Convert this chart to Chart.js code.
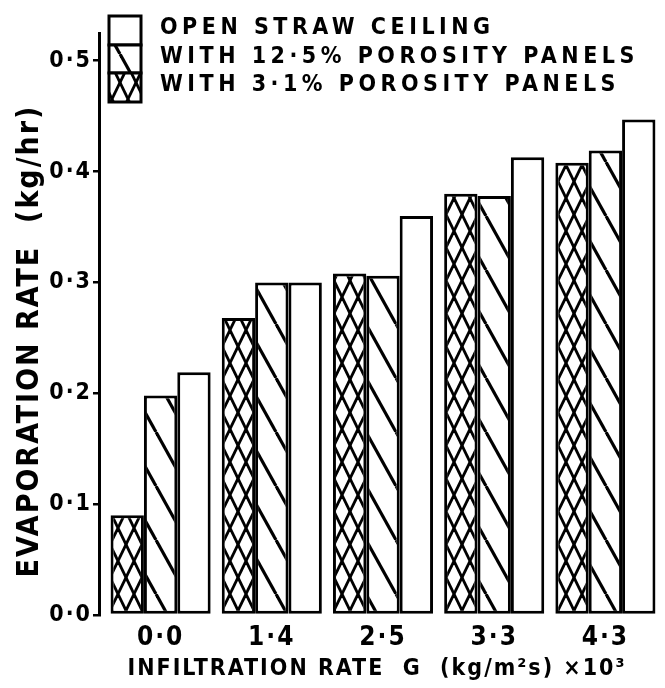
<!DOCTYPE html>
<html>
<head>
<meta charset="utf-8">
<script src="https://cdn.jsdelivr.net/npm/chart.js@4/dist/chart.umd.min.js"></script>
<style>
  html, body { margin: 0; padding: 0; background: #fff; }
  #wrap { width: 665px; height: 688px; }
</style>
</head>
<body>
<div id="wrap"><canvas id="barChart"></canvas></div>
<script>
// Datos
const categorias = ['0·0', '1·4', '2·5', '3·3', '4·3'];
const etiquetas = ['WITH 3·1% POROSITY PANELS', 'WITH 12·5% POROSITY PANELS', 'OPEN STRAW CEILING'];
const porosidad31 = [0.090, 0.268, 0.308, 0.380, 0.408];
const porosidad125 = [0.198, 0.300, 0.306, 0.378, 0.419];
const abierto = [0.219, 0.300, 0.360, 0.413, 0.447];
const ticksY = [0, 0.1, 0.2, 0.3, 0.4, 0.5];

const fuente = "'DejaVu Sans Condensed', 'DejaVu Sans', sans-serif";

// Patrones de rayado
function patronDiagonal() {
    const c = document.createElement('canvas');
    c.width = 30; c.height = 54;
    const x = c.getContext('2d');
    x.fillStyle = '#fff';
    x.fillRect(0, 0, 30, 54);
    x.strokeStyle = '#000';
    x.lineWidth = 3.2;
    [-30, 0, 30].forEach(dx => {
        x.beginPath();
        x.moveTo(dx, 0);
        x.lineTo(dx + 30, 54);
        x.stroke();
    });
    return x.createPattern(c, 'repeat');
}

function patronCruzado() {
    const c = document.createElement('canvas');
    c.width = 16; c.height = 33;
    const x = c.getContext('2d');
    x.fillStyle = '#fff';
    x.fillRect(0, 0, 16, 33);
    x.strokeStyle = '#000';
    x.lineWidth = 2.8;
    [-16, 0, 16].forEach(dx => {
        x.beginPath();
        x.moveTo(dx, 0);
        x.lineTo(dx + 16, 33);
        x.stroke();
        x.beginPath();
        x.moveTo(dx + 16, 0);
        x.lineTo(dx, 33);
        x.stroke();
    });
    return x.createPattern(c, 'repeat');
}

const fondos = [patronCruzado(), patronDiagonal(), '#fff'];

// Espaciado de letras para todo el texto
const espaciado = {
    id: 'espaciado',
    beforeLayout(chart) { chart.ctx.letterSpacing = '2px'; },
    beforeDraw(chart) { chart.ctx.letterSpacing = '2px'; }
};

// Las barras empiezan un poco separadas del eje Y
const desplazar = {
    id: 'desplazar',
    beforeDatasetsDraw(chart) { chart.ctx.save(); chart.ctx.translate(6, 0); },
    afterDatasetsDraw(chart) { chart.ctx.restore(); }
};

// Leyenda dibujada dentro del area del grafico
const leyenda = {
    id: 'leyenda',
    afterDraw(chart) {
        const ctx = chart.ctx;
        const x0 = 109, w = 32;
        const filas = [
            { y: 16, h: 29, ds: 2 },
            { y: 45, h: 28, ds: 1 },
            { y: 73, h: 29, ds: 0 }
        ];
        ctx.save();
        ctx.letterSpacing = '4.5px';
        filas.forEach(f => {
            ctx.fillStyle = fondos[f.ds];
            ctx.fillRect(x0, f.y, w, f.h);
            ctx.lineWidth = 3;
            ctx.strokeStyle = '#000';
            ctx.strokeRect(x0, f.y, w, f.h);
            ctx.fillStyle = '#000';
            ctx.font = "bold 23px " + fuente;
            ctx.textBaseline = 'middle';
            ctx.textAlign = 'left';
            ctx.fillText(etiquetas[f.ds], 160, f.y + f.h / 2 - 2);
        });
        ctx.restore();
    }
};

const datasets = [porosidad31, porosidad125, abierto].map((datos, i) => ({
    label: etiquetas[i],
    data: datos,
    backgroundColor: fondos[i],
    borderColor: '#000',
    borderWidth: 3,
    borderSkipped: false
}));

const ctxBar = document.getElementById('barChart').getContext('2d');
new Chart(ctxBar, {
    type: 'bar',
    data: { labels: categorias, datasets: datasets },
    plugins: [espaciado, desplazar, leyenda],
    options: {
        responsive: true,
        maintainAspectRatio: false,
        animation: false,
        layout: { padding: { top: 33, right: 10, left: 0, bottom: 0 } },
        plugins: {
            legend: { display: false },
            tooltip: { enabled: false }
        },
        datasets: {
            bar: { categoryPercentage: 0.9, barPercentage: 1.0 }
        },
        scales: {
            x: {
                grid: { display: false, drawTicks: false },
                border: { display: false },
                ticks: {
                    color: '#000',
                    font: { family: fuente, size: 26, weight: 'bold' },
                    padding: 8,
                    labelOffset: 6
                },
                title: {
                    display: true,
                    text: 'INFILTRATION RATE  G  (kg/m²s) ×10³',
                    color: '#000',
                    font: { family: fuente, size: 23, weight: 'bold' },
                    padding: { top: 0, bottom: 5 }
                },
                afterFit(scale) { scale.height = 73; }
            },
            y: {
                min: 0,
                max: 0.525,
                afterBuildTicks(scale) {
                    scale.ticks = ticksY.map(v => ({ value: v }));
                },
                grid: {
                    drawOnChartArea: false,
                    drawTicks: true,
                    tickLength: 6,
                    color: '#000',
                    lineWidth: 2.5
                },
                border: { display: true, color: '#000', width: 3 },
                ticks: {
                    color: '#000',
                    font: { family: fuente, size: 23, weight: 'bold' },
                    padding: 1,
                    callback: v => v.toFixed(1).replace('.', '·')
                },
                title: {
                    display: true,
                    text: 'EVAPORATION RATE  (kg/hr)   ',
                    color: '#000',
                    font: { family: fuente, size: 30, weight: 'bold' },
                    padding: { top: 12, bottom: 0 }
                },
                afterFit(scale) { scale.width = 99; }
            }
        }
    }
});
</script>
</body>
</html>
